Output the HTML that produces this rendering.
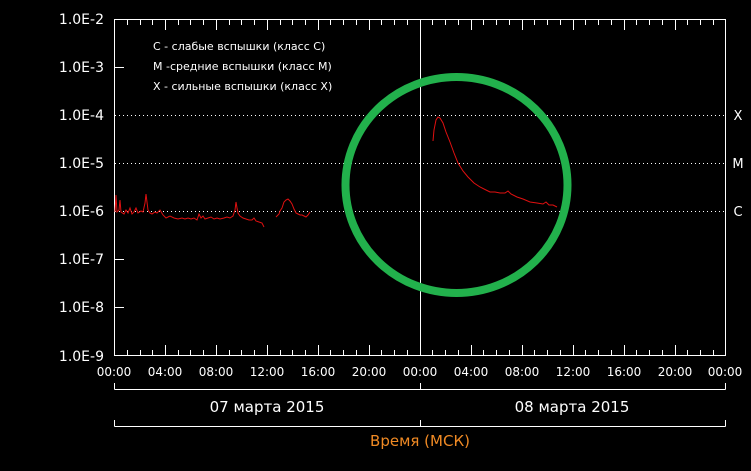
<!DOCTYPE html>
<html><head><meta charset="utf-8"><style>
html,body{margin:0;padding:0;background:#000;}
svg{display:block}
text{font-family:"DejaVu Sans","Liberation Sans",sans-serif;fill:#fff}
</style></head><body>
<svg width="751" height="471" viewBox="0 0 751 471" xmlns="http://www.w3.org/2000/svg">
<rect width="751" height="471" fill="#000"/>
<g stroke="#fff" stroke-width="1" fill="none">
<rect x="114.5" y="19.5" width="611" height="336"/>
<line x1="420.5" y1="19" x2="420.5" y2="356"/>
<g stroke-dasharray="1,3">
<line x1="115" y1="115.5" x2="725" y2="115.5"/>
<line x1="115" y1="163.5" x2="725" y2="163.5"/>
<line x1="115" y1="211.5" x2="725" y2="211.5"/>
</g>
<path d="M114.5 389.5H725.5M114.5 383V389.5M420.5 383V389.5M725.5 383V389.5"/>
<path d="M114.5 426.5H725.5M114.5 420V426.5M420.5 420V426.5M725.5 420V426.5"/>
<path d="M114 67.5H124M114 259.5H124M114 307.5H124"/>
<path d="M127.5 20v5M127.5 355v-5M140.5 20v5M140.5 355v-5M152.5 20v5M152.5 355v-5M165.5 20v10M165.5 355v-10M178.5 20v5M178.5 355v-5M190.5 20v5M190.5 355v-5M203.5 20v5M203.5 355v-5M216.5 20v10M216.5 355v-10M229.5 20v5M229.5 355v-5M241.5 20v5M241.5 355v-5M254.5 20v5M254.5 355v-5M267.5 20v10M267.5 355v-10M280.5 20v5M280.5 355v-5M292.5 20v5M292.5 355v-5M305.5 20v5M305.5 355v-5M318.5 20v10M318.5 355v-10M330.5 20v5M330.5 355v-5M343.5 20v5M343.5 355v-5M356.5 20v5M356.5 355v-5M369.5 20v10M369.5 355v-10M381.5 20v5M381.5 355v-5M394.5 20v5M394.5 355v-5M407.5 20v5M407.5 355v-5M432.5 20v5M432.5 355v-5M445.5 20v5M445.5 355v-5M458.5 20v5M458.5 355v-5M471.5 20v10M471.5 355v-10M483.5 20v5M483.5 355v-5M496.5 20v5M496.5 355v-5M509.5 20v5M509.5 355v-5M522.5 20v10M522.5 355v-10M534.5 20v5M534.5 355v-5M547.5 20v5M547.5 355v-5M560.5 20v5M560.5 355v-5M573.5 20v10M573.5 355v-10M585.5 20v5M585.5 355v-5M598.5 20v5M598.5 355v-5M611.5 20v5M611.5 355v-5M624.5 20v10M624.5 355v-10M636.5 20v5M636.5 355v-5M649.5 20v5M649.5 355v-5M662.5 20v5M662.5 355v-5M675.5 20v10M675.5 355v-10M687.5 20v5M687.5 355v-5M700.5 20v5M700.5 355v-5M713.5 20v5M713.5 355v-5"/>
</g>
<g font-size="14" text-anchor="end">
<text x="104" y="24">1.0E-2</text><text x="104" y="72">1.0E-3</text><text x="104" y="120">1.0E-4</text>
<text x="104" y="168">1.0E-5</text><text x="104" y="216">1.0E-6</text><text x="104" y="264">1.0E-7</text>
<text x="104" y="312">1.0E-8</text><text x="104" y="361">1.0E-9</text>
</g>
<g font-size="13" text-anchor="middle">
<text x="738" y="120">X</text><text x="738" y="168">M</text><text x="738" y="216">C</text>
</g>
<g font-size="12" text-anchor="middle">
<text x="114" y="376">00:00</text><text x="165" y="376">04:00</text><text x="216" y="376">08:00</text>
<text x="267" y="376">12:00</text><text x="318" y="376">16:00</text><text x="369" y="376">20:00</text>
<text x="420" y="376">00:00</text><text x="471" y="376">04:00</text><text x="522" y="376">08:00</text>
<text x="573" y="376">12:00</text><text x="624" y="376">16:00</text><text x="675" y="376">20:00</text>
<text x="725" y="376">00:00</text>
</g>
<g font-size="15" text-anchor="middle">
<text x="267" y="412">07 марта 2015</text><text x="572" y="412">08 марта 2015</text>
<text x="420" y="446" style="fill:#f08a24">Время (МСК)</text>
</g>
<g font-size="11">
<text x="153" y="50">С - слабые вспышки (класс С)</text>
<text x="153" y="70">М -средние вспышки (класс М)</text>
<text x="153" y="90">Х - сильные вспышки (класс Х)</text>
</g>
<g fill="none" stroke="#e01010" stroke-width="1">
<polyline points="115,212 116,195 117,212 119,210 120,200 121,212 124,214 126,210 128,213 130,208 132,214 134,212 136,208 138,213 141,211 143,212 145,203 146,194 148,210 150,213 152,214 155,212 157,213 160,210 163,215 166,218 170,216 174,218 178,219 182,218 185,219 188,218 191,219 194,218 197,220 199,214 201,218 203,216 205,219 208,218 211,217 214,219 217,218 220,219 224,218 227,217 230,218 233,216 235,210 236,202 237,208 238,213 240,216 243,218 246,219 249,220 252,220 254,218 256,221 259,222 262,223 264,227"/>
<polyline points="276,217 277,216 279,214 280,211 282,208 284,202 286,200 288,199 290,201 292,204 294,209 296,213 298,214 300,215 302,215 304,216 306,217 308,215 310,212"/>
<polyline points="433,141 434,130 436,120 438,117 440,118 443,123 446,132 450,142 454,153 458,163 463,171 468,177 474,183 480,187 486,190 490,192 495,192 500,193 505,193 508,191 511,194 517,197 523,199 530,202 537,203 543,204 546,202 549,205 553,205 557,207"/>
</g>
<ellipse cx="456.5" cy="185" rx="111" ry="108" fill="none" stroke="#22b14c" stroke-width="8"/>
</svg>
</body></html>
